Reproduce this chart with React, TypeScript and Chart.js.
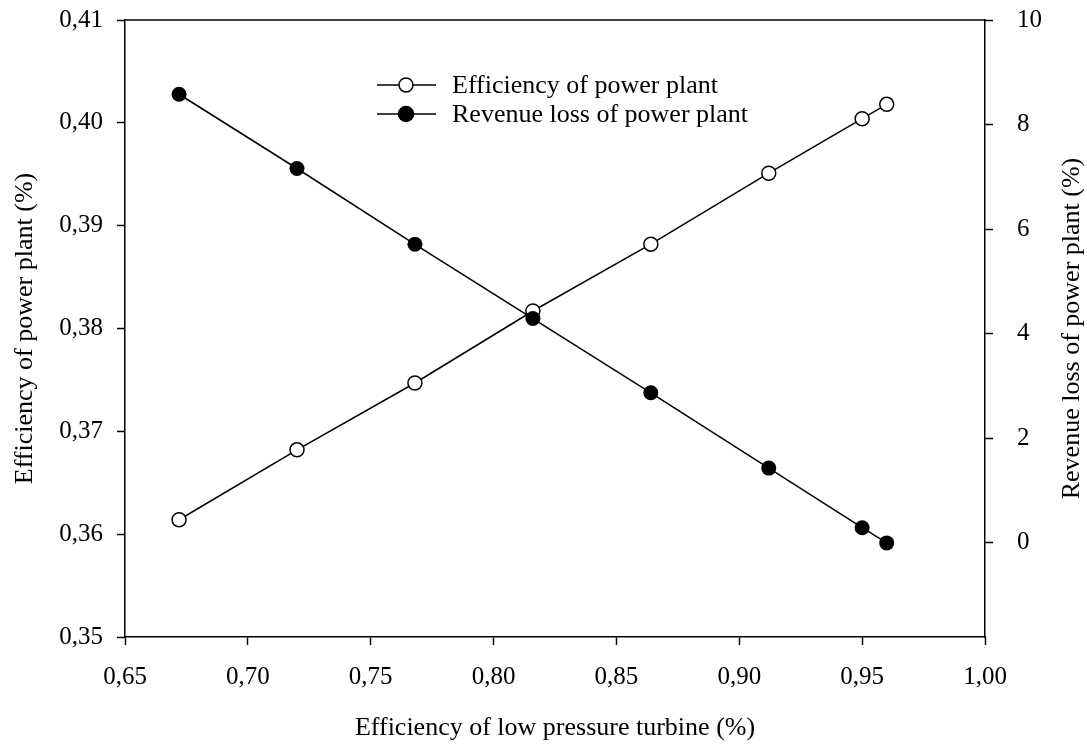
import React, { useEffect, useRef } from "react";
import { Chart, registerables } from "chart.js";

Chart.register(...registerables);

// ---- data ----
const lptEfficiency = [0.672, 0.72, 0.768, 0.816, 0.864, 0.912, 0.95, 0.96];
const plantEfficiency = [0.3614, 0.3682, 0.3747, 0.3817, 0.3882, 0.3951, 0.4004, 0.4018];
const revenueLoss = [8.58, 7.16, 5.71, 4.29, 2.87, 1.43, 0.29, 0.0];

const xTickValues = [0.65, 0.7, 0.75, 0.8, 0.85, 0.9, 0.95, 1.0];
const leftTickValues = [0.35, 0.36, 0.37, 0.38, 0.39, 0.4, 0.41];
const rightTickValues = [0, 2, 4, 6, 8, 10];

const seriesLabels = ["Efficiency of power plant", "Revenue loss of power plant"];
const xTitle = "Efficiency of low pressure turbine (%)";
const leftTitle = "Efficiency of power plant (%)";
const rightTitle = "Revenue loss of power plant (%)";

const FONT = "'Liberation Serif', 'Times New Roman', serif";
const W = 1087;
const H = 745;

const comma2 = (v: number | string) => Number(v).toFixed(2).replace(".", ",");

const decorPlugin = {
  id: "decor",
  afterDraw(chart: any) {
    const { ctx, chartArea } = chart;
    ctx.save();
    ctx.strokeStyle = "#000";
    ctx.lineWidth = 1.5;
    // top frame line
    ctx.beginPath();
    ctx.moveTo(chartArea.left - 0.75, chartArea.top);
    ctx.lineTo(chartArea.right + 0.75, chartArea.top);
    ctx.stroke();

    // legend
    const rows = [
      { y: 85, fill: "#fff", r: 7 },
      { y: 114, fill: "#000", r: 7.5 },
    ];
    rows.forEach((row, i) => {
      ctx.beginPath();
      ctx.moveTo(377, row.y);
      ctx.lineTo(436, row.y);
      ctx.lineWidth = 1.5;
      ctx.stroke();
      ctx.beginPath();
      ctx.arc(406, row.y, row.r, 0, Math.PI * 2);
      ctx.fillStyle = row.fill;
      ctx.fill();
      ctx.stroke();
      ctx.fillStyle = "#000";
      ctx.font = `26px ${FONT}`;
      ctx.textAlign = "left";
      ctx.textBaseline = "middle";
      ctx.fillText(seriesLabels[i], 452, row.y + 1);
    });

    // right axis title (reads bottom-to-top)
    ctx.translate(1072, (chartArea.top + chartArea.bottom) / 2);
    ctx.rotate(-Math.PI / 2);
    ctx.font = `26px ${FONT}`;
    ctx.textAlign = "center";
    ctx.textBaseline = "middle";
    ctx.fillStyle = "#000";
    ctx.fillText(rightTitle, 0, 0);
    ctx.restore();
  },
};

const fitVertical = (width: number) => (s: any) => {
  s.width = width;
  s.paddingTop = 0;
  s.paddingBottom = 0;
};

export default function App() {
  const ref = useRef<HTMLCanvasElement | null>(null);

  useEffect(() => {
    if (!ref.current) return;
    const chart = new Chart(ref.current, {
      type: "line",
      data: {
        datasets: [
          {
            label: seriesLabels[0],
            data: lptEfficiency.map((x, i) => ({ x, y: plantEfficiency[i] })),
            yAxisID: "y",
            borderColor: "#000",
            borderWidth: 1.5,
            pointRadius: 7,
            pointBackgroundColor: "#fff",
            pointBorderColor: "#000",
            pointBorderWidth: 1.5,
            pointHoverRadius: 7,
            tension: 0,
            order: 1,
          },
          {
            label: seriesLabels[1],
            data: lptEfficiency.map((x, i) => ({ x, y: revenueLoss[i] })),
            yAxisID: "y2",
            borderColor: "#000",
            borderWidth: 1.5,
            pointRadius: 7.5,
            pointBackgroundColor: "#000",
            pointBorderColor: "#000",
            pointBorderWidth: 0,
            pointHoverRadius: 7.5,
            tension: 0,
            order: 0,
          },
        ],
      },
      options: {
        responsive: false,
        maintainAspectRatio: false,
        animation: false,
        events: [],
        layout: { padding: { top: 20, left: 0, right: 0, bottom: 0 } },
        plugins: {
          legend: { display: false },
          tooltip: { enabled: false },
        },
        scales: {
          x: {
            type: "linear",
            position: "bottom",
            min: 0.65,
            max: 1.0,
            afterBuildTicks: (s: any) => {
              s.ticks = xTickValues.map((value) => ({ value }));
            },
            afterFit: (s: any) => {
              s.height = 108;
              s.paddingLeft = 0;
              s.paddingRight = 0;
            },
            ticks: {
              callback: (v: any) => comma2(v),
              color: "#000",
              font: { family: FONT, size: 25 },
              padding: 17,
              maxRotation: 0,
              autoSkip: false,
            },
            grid: {
              drawOnChartArea: false,
              drawTicks: true,
              tickLength: 8,
              tickWidth: 1.5,
              tickColor: "#000",
            },
            border: { display: true, color: "#000", width: 1.5 },
            title: {
              display: true,
              text: xTitle,
              color: "#000",
              font: { family: FONT, size: 26 },
              padding: { top: 0, bottom: 1 },
            },
          },
          y: {
            type: "linear",
            position: "left",
            min: 0.35,
            max: 0.41,
            afterBuildTicks: (s: any) => {
              s.ticks = leftTickValues.map((value) => ({ value }));
            },
            afterFit: fitVertical(125),
            ticks: {
              callback: (v: any) => comma2(v),
              color: "#000",
              font: { family: FONT, size: 25 },
              padding: 14,
              autoSkip: false,
            },
            grid: {
              drawOnChartArea: false,
              drawTicks: true,
              tickLength: 8,
              tickWidth: 1.5,
              tickColor: "#000",
            },
            border: { display: true, color: "#000", width: 1.5 },
            title: {
              display: true,
              text: leftTitle,
              color: "#000",
              font: { family: FONT, size: 26 },
              padding: { top: 10, bottom: 0 },
            },
          },
          y2: {
            type: "linear",
            position: "right",
            min: -1.8,
            max: 10,
            afterBuildTicks: (s: any) => {
              s.ticks = rightTickValues.map((value) => ({ value }));
            },
            afterFit: fitVertical(102),
            ticks: {
              callback: (v: any) => String(v),
              color: "#000",
              font: { family: FONT, size: 25 },
              padding: 24,
              autoSkip: false,
            },
            grid: {
              drawOnChartArea: false,
              drawTicks: true,
              tickLength: 8,
              tickWidth: 1.5,
              tickColor: "#000",
            },
            border: { display: true, color: "#000", width: 1.5 },
            title: { display: false },
          },
        },
      },
      plugins: [decorPlugin],
    });
    return () => chart.destroy();
  }, []);

  return (
    <div style={{ position: "absolute", left: 0, top: 0, width: W, height: H, background: "#fff" }}>
      <canvas ref={ref} width={W} height={H} style={{ display: "block", width: W, height: H }} />
    </div>
  );
}
